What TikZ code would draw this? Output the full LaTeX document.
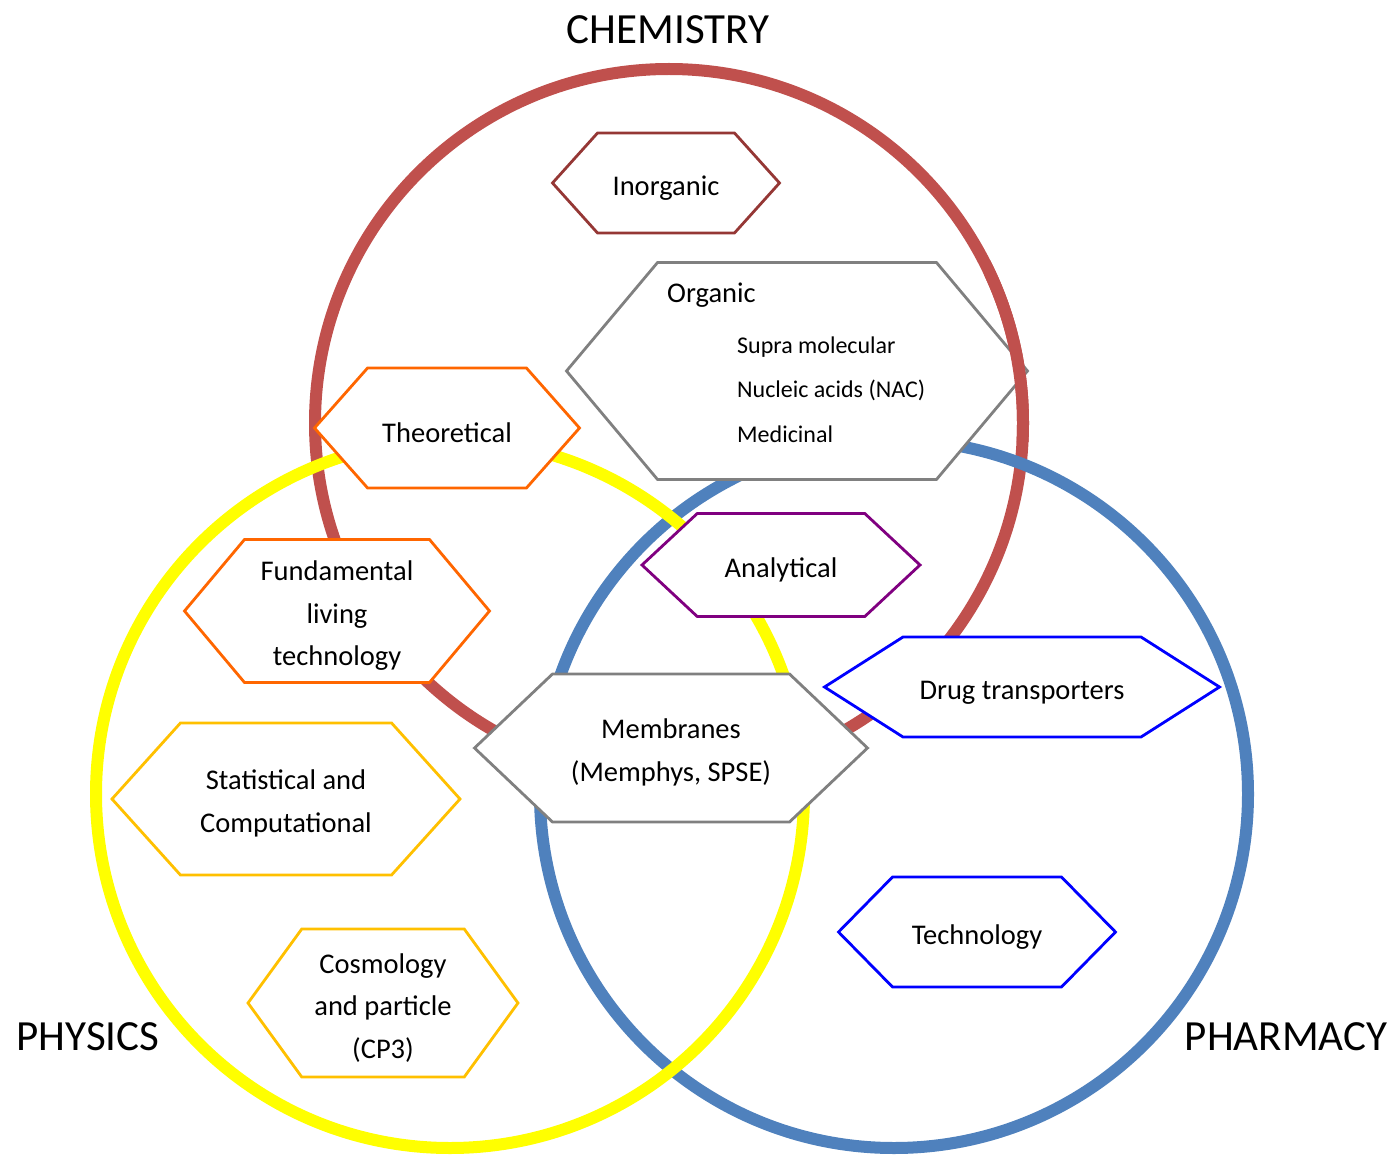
\documentclass[tikz,border=0pt]{standalone}
\usepackage{fontspec}
\setmainfont{Carlito}
\usetikzlibrary{shapes.symbols,positioning}

\definecolor{chemred}{RGB}{192,80,77}
\definecolor{pharmblue}{RGB}{79,129,189}
\definecolor{physyellow}{RGB}{255,255,0}
\definecolor{inorgred}{RGB}{149,55,53}
\definecolor{orggray}{RGB}{128,128,128}
\definecolor{theoorange}{RGB}{255,102,0}
\definecolor{statgold}{RGB}{255,192,0}
\definecolor{anpurple}{RGB}{128,0,128}
\definecolor{drugblue}{RGB}{0,0,255}

\newcommand{\hexstrut}{\rule{0pt}{29pt}}

\tikzset{
  field/.style={line width=12pt},
  hexbox/.style={signal, signal to=east and west, draw, fill=white, line width=2.8pt,
    inner sep=0pt, align=center, text=black, font=\fontsize{28.5}{42.5}\selectfont},
  bigtitle/.style={font=\fontsize{43}{50}\selectfont},
  orgtext/.style={anchor=base west, inner sep=0pt, font=\fontsize{28.5}{34}\selectfont},
  itemtext/.style={anchor=base west, inner sep=0pt, font=\fontsize{24}{28}\selectfont}
}

\begin{document}
\begin{tikzpicture}[x=1pt,y=-1pt]
  \useasboundingbox (0,0) rectangle (1392,1158);

  % the three fields
  \draw[field, chemred]    (669,423) circle[radius=354];
  \draw[field, pharmblue]  (894,794) circle[radius=354];
  \draw[field, physyellow] (450,794) circle[radius=354];

  \node[bigtitle] (chem)  at (668,30)   {CHEMISTRY};
  \node[bigtitle] (phys)  at (88,1037)  {PHYSICS};
  \node[bigtitle] (pharm) at (1286,1037) {PHARMACY};

  % chemistry
  \node[hexbox, draw=inorgred, minimum width=227, minimum height=100,
        signal pointer angle=96] (inorganic) at (666,183) {\hexstrut Inorganic};
  \node[hexbox, draw=orggray, minimum width=461, minimum height=217,
        signal pointer angle=100] (organic) at (797,371) {};
  \node[orgtext]  (orgtitle) at (667,302) {Organic};
  \node[itemtext] (supra)    at (737,353) {Supra molecular};
  \node[itemtext] (nucleic)  at (737,397) {Nucleic acids (NAC)};
  \node[itemtext] (medic)    at (737,442) {Medicinal};
  % red ring runs over the tip of organic
  \begin{scope}
    \clip (organic.east) ++(-45,-110) rectangle ++(65,180);
    \draw[field, chemred] (669,423) circle[radius=354];
  \end{scope}

  % physics
  \node[hexbox, draw=theoorange, minimum width=265, minimum height=120,
        signal pointer angle=97] (theoretical) at (447,428) {\hexstrut Theoretical};
  \node[hexbox, draw=theoorange, minimum width=305, minimum height=143,
        signal pointer angle=100] (fundamental) at (337,611)
        {\hexstrut Fundamental\\living\\technology};
  \node[hexbox, draw=statgold, minimum width=348, minimum height=152,
        signal pointer angle=96] (statistical) at (286,799)
        {\hexstrut Statistical and\\Computational};
  \node[hexbox, draw=statgold, minimum width=270, minimum height=148,
        signal pointer angle=108] (cosmology) at (383,1003)
        {\hexstrut Cosmology\\and particle\\(CP3)};

  % overlaps
  \node[hexbox, draw=anpurple, minimum width=278, minimum height=103,
        signal pointer angle=86] (analytical) at (781,565) {\hexstrut Analytical};
  \node[hexbox, draw=orggray, minimum width=393, minimum height=148,
        signal pointer angle=87] (membranes) at (671,748)
        {\hexstrut Membranes\\(Memphys, SPSE)};

  % pharmacy
  \node[hexbox, draw=drugblue, minimum width=395, minimum height=100,
        signal pointer angle=65] (drug) at (1022,687) {\hexstrut Drug transporters};
  \node[hexbox, draw=drugblue, minimum width=277, minimum height=110,
        signal pointer angle=91] (technology) at (977,932) {\hexstrut Technology};
\end{tikzpicture}
\end{document}
